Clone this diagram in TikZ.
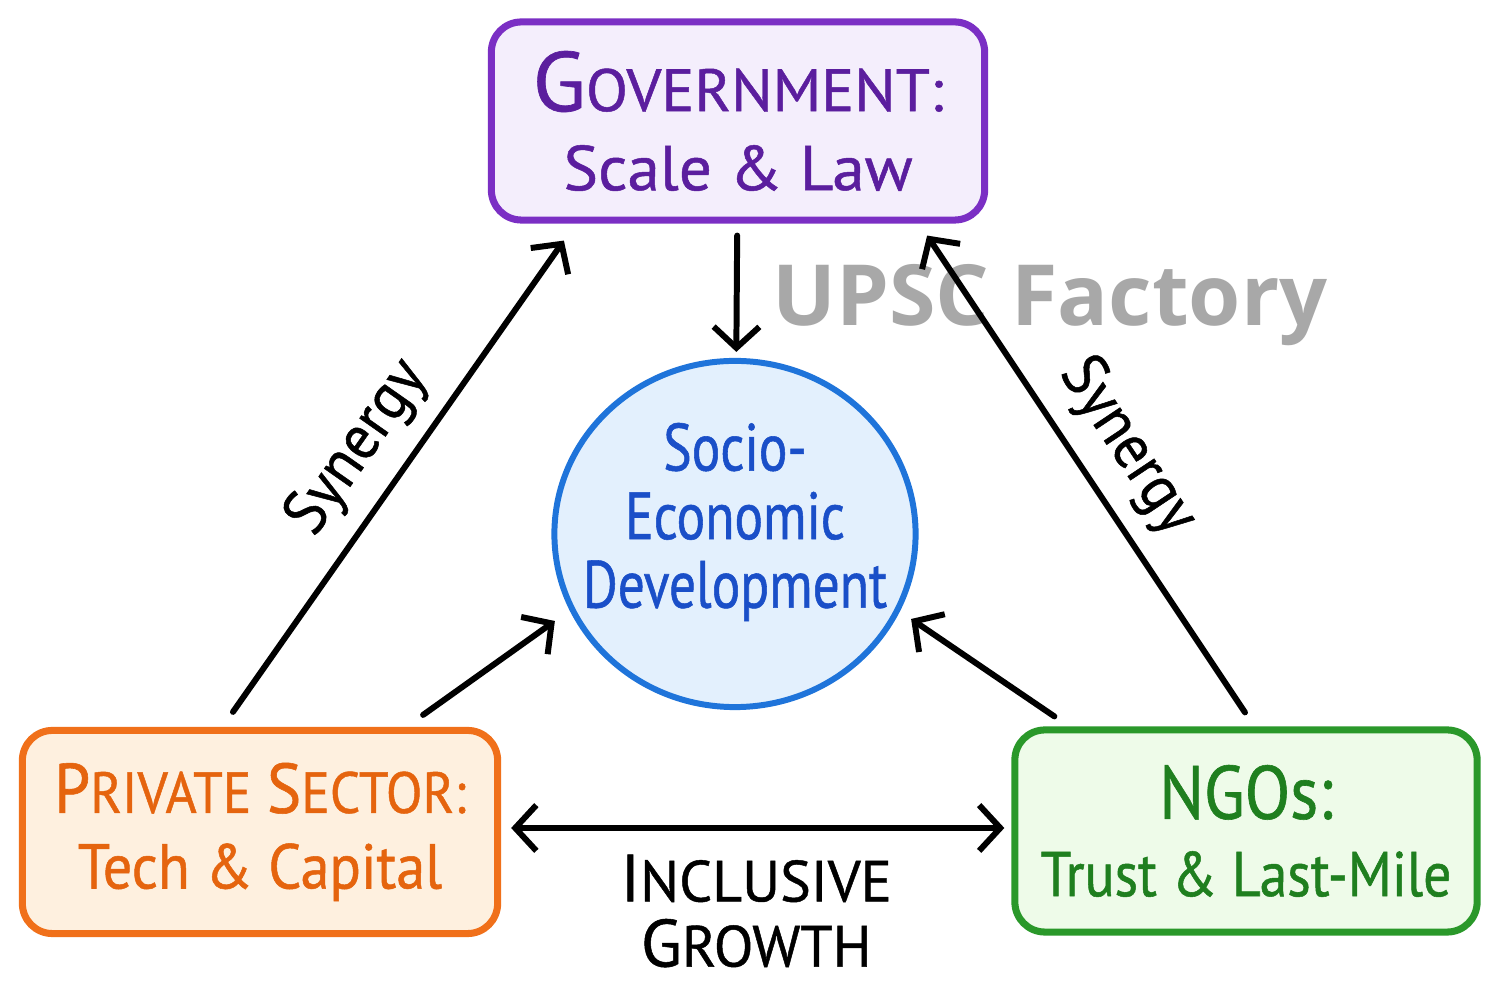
\documentclass[tikz,border=0pt]{standalone}
\usepackage{fontspec}
\usetikzlibrary{arrows.meta,positioning,shapes.geometric}
\newfontfamily\handfont[FakeBold=0.8]{PT Sans}
\newfontfamily\markfont{Open Sans}
\definecolor{govline}{HTML}{7B2FC4}
\definecolor{govtext}{HTML}{5B1E9E}
\definecolor{govfill}{HTML}{F4EEFC}
\definecolor{privline}{HTML}{F0701A}
\definecolor{privtext}{HTML}{E5640E}
\definecolor{privfill}{HTML}{FEF0DF}
\definecolor{ngoline}{HTML}{2A982A}
\definecolor{ngotext}{HTML}{1F7F1F}
\definecolor{ngofill}{HTML}{EEFBE9}
\definecolor{circline}{HTML}{1F74DA}
\definecolor{circtext}{HTML}{1A4FC8}
\definecolor{circfill}{HTML}{E3F0FD}
\definecolor{markgray}{HTML}{A8A8A8}
\newcommand{\capletter}[2]{{\fontsize{#1}{#1}\selectfont #2}}
\newcommand{\handsize}[3]{\handfont\addfontfeature{FakeStretch=#1}\fontsize{#2}{#3}\selectfont}
\begin{document}
\begin{tikzpicture}[x=0.01cm,y=-0.01cm,
		box/.style={draw, rounded corners=0.3cm, line width=2pt, align=center, inner sep=0pt},
		arr/.style={line width=1.7pt, line cap=round, -{Straight Barb[length=6pt,width=13pt]}},
		synlabel/.style={font=\handsize{0.92}{18}{18}, inner sep=2pt}]
		\useasboundingbox (0,0) rectangle (1499,986);
		\node[font=\markfont\bfseries\fontsize{24}{24}\selectfont, text=markgray] (mark) at (1050,305) {UPSC Factory};
		\node[box, draw=govline, fill=govfill, text=govtext, minimum width=4.93cm, minimum height=1.98cm,
			font=\handsize{1.03}{18}{22.5}] (gov) at (738,121)
			{\capletter{24}{G}\capletter{17}{OVERNMENT:}\\Scale \& Law};
		\node[box, draw=privline, fill=privfill, text=privtext, minimum width=4.75cm, minimum height=2.03cm,
			font=\handsize{0.92}{18}{21.5}] (priv) at (260,832)
			{\capletter{20}{P}\capletter{16.5}{RIVATE} \capletter{20}{S}\capletter{16.5}{ECTOR:}\\Tech \& Capital};
		\node[box, draw=ngoline, fill=ngofill, text=ngotext, minimum width=4.62cm, minimum height=2.02cm,
			font=\handsize{0.88}{18}{22}] (ngo) at (1246,831)
			{\capletter{21.5}{NGOs:}\\Trust \& Last-Mile};
		\node[ellipse, draw=circline, fill=circfill, line width=1.7pt, minimum width=3.61cm,
			minimum height=3.46cm, inner sep=0pt] (circ) at (735,534) {};
		\node[text=circtext, align=center, inner sep=0pt, font=\handsize{0.8}{19}{19.5}] (circlabel) at (735,522)
			{Socio-\\Economic\\Development};
		\draw[arr, shorten <=0.12cm, shorten >=0.06cm] (gov) -- (circ);
		\draw[arr] ([xshift=-0.27cm,yshift=0.15cm]priv.north) -- ([xshift=0.76cm,yshift=-0.17cm]gov.south west)
			node[synlabel, midway, sloped, above=0.1cm] {Synergy};
		\draw[arr] ([xshift=-0.01cm,yshift=0.14cm]ngo.north) -- ([xshift=-0.61cm,yshift=-0.12cm]gov.south east)
			node[synlabel, midway, sloped, above=0.1cm] {Synergy};
		\draw[arr] ([xshift=1.63cm,yshift=0.12cm]priv.north) -- ([xshift=-0.15cm,yshift=-0.1cm]circ.205);
		\draw[arr] ([xshift=0.43cm,yshift=0.1cm]ngo.north west) -- ([xshift=0.11cm,yshift=-0.08cm]circ.335);
		\draw[arr, {Straight Barb[length=6pt,width=13pt]}-{Straight Barb[length=6pt,width=13pt]}, shorten <=0.1cm, shorten >=0.07cm]
			([yshift=0.04cm]priv.east) -- ([yshift=0.03cm]ngo.west)
			node[midway, below=0.12cm, align=center, font=\handsize{1.0}{16.5}{18.5}] (growth)
			{\capletter{19}{I}NCLUSIVE\\\capletter{19}{G}ROWTH};
\end{tikzpicture}
\end{document}
